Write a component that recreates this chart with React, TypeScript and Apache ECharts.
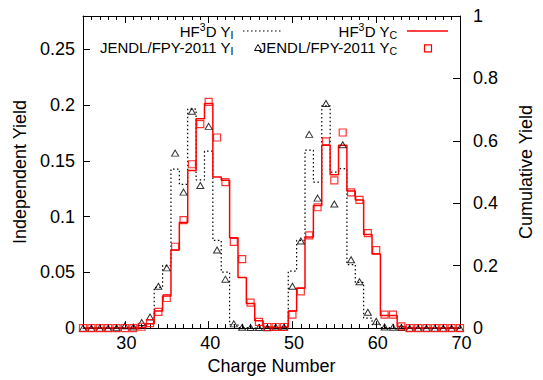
import React, { useEffect, useRef } from 'react';
import * as echarts from 'echarts';

const chargeNumbers = [25, 26, 27, 28, 29, 30, 31, 32, 33, 34, 35, 36, 37, 38, 39, 40, 41, 42, 43, 44, 45, 46, 47,
  48, 49, 50, 51, 52, 53, 54, 55, 56, 57, 58, 59, 60, 61, 62, 63, 64, 65, 66, 67, 68, 69, 70];

// HF3D independent yield (dotted step)
const hf3dYI = [0, 0, 0, 0, 0, 0.0005, 0.001, 0.002, 0.004, 0.0366, 0.056, 0.1427, 0.129, 0.1965, 0.133, 0.1587,
  0.0787, 0.0503, 0.003, 0.0005, 0, 0, 0, 0, 0.0005, 0.0512, 0.0787, 0.1596, 0.131, 0.1994, 0.14, 0.143, 0.057,
  0.041, 0.009, 0.003, 0.0005, 0, 0, 0, 0, 0, 0, 0, 0, 0];

// HF3D cumulative yield (red step)
const hf3dYC = [0, 0, 0, 0, 0, 0, 0, 0.0005, 0.004, 0.0154, 0.0288, 0.07, 0.0948, 0.1413, 0.1878, 0.2015,
  0.1355, 0.1326, 0.081, 0.0453, 0.022, 0.0067, 0.001, 0.0005, 0.001, 0.0154, 0.0358, 0.0817, 0.11, 0.164,
  0.1375, 0.164, 0.123, 0.115, 0.084, 0.0665, 0.0113, 0.0113, 0.0015, 0, 0, 0, 0, 0, 0, 0];

// JENDL/FPY-2011 independent yield (triangles)
const jendlYI = [0, 0, 0, 0, 0.0003, 0.002, 0.001, 0.005, 0.01, 0.0375, 0.054, 0.157, 0.122, 0.1945, 0.128,
  0.181, 0.07, 0.0439, 0.0038, 0.0008, 0.0005, 0.0005, 0.0003, 0.001, 0.001, 0.0375, 0.0782, 0.1738, 0.1166,
  0.2015, 0.1113, 0.1645, 0.0613, 0.0416, 0.0142, 0.0061, 0.001, 0.0008, 0.0005, 0, 0, 0, 0, 0, 0, 0];

// JENDL/FPY-2011 cumulative yield (squares)
const jendlYC = [0, 0, 0, 0, 0, 0, 0, 0.0012, 0.0045, 0.0145, 0.027, 0.073, 0.0968, 0.147, 0.183, 0.203, 0.171,
  0.131, 0.0773, 0.0619, 0.0229, 0.0055, 0.001, 0.001, 0.001, 0.012, 0.0329, 0.0831, 0.1084, 0.1675, 0.1326,
  0.1755, 0.1218, 0.1151, 0.0852, 0.07, 0.012, 0.012, 0.0015, 0, 0, 0, 0, 0, 0, 0];

const xMajorTicks = [30, 40, 50, 60, 70];
const yLeftTicks = [0, 0.05, 0.1, 0.15, 0.2, 0.25];

const FONT = 'Liberation Sans';

function pairs(vals: number[]) {
  return chargeNumbers.map((z, i) => [z, vals[i]]);
}

const richStyles = {
  m: { fontFamily: FONT, fontSize: 15, lineHeight: 19, verticalAlign: 'middle', fill: '#000' },
  sup: { fontFamily: FONT, fontSize: 10.5, lineHeight: 10, verticalAlign: 'top', fill: '#000' },
  sub: { fontFamily: FONT, fontSize: 10.5, lineHeight: 10, verticalAlign: 'bottom', fill: '#000' },
};

export default function App() {
  const ref = useRef<HTMLDivElement>(null);
  useEffect(() => {
    if (!ref.current) return;
    const chart = echarts.init(ref.current, null, { renderer: 'svg' });
    const axisLineStyle = { color: '#000', width: 1 };
    const labelStyle = { fontFamily: FONT, fontSize: 18, color: '#000' };
    const nameStyle = { fontFamily: FONT, fontSize: 18, color: '#000' };
    const option: any = {
      animation: false,
      backgroundColor: '#fff',
      grid: { left: 83, top: 16, width: 382, height: 321 },
      xAxis: [
        {
          type: 'value', position: 'bottom', min: 25, max: 70, interval: 1,
          axisLine: { show: true, lineStyle: axisLineStyle },
          axisTick: { show: true, inside: true, length: 4, lineStyle: { color: '#000' } },
          axisLabel: { ...labelStyle, margin: 6, padding: [0, 0, 0, 3], customValues: xMajorTicks },
          splitLine: { show: false },
          name: 'Charge Number', nameLocation: 'middle', nameGap: 21, nameTextStyle: nameStyle,
        },
        {
          type: 'value', position: 'bottom', min: 25, max: 70,
          axisLine: { show: false },
          axisTick: { show: true, inside: true, length: 7, customValues: xMajorTicks, lineStyle: { color: '#000' } },
          axisLabel: { show: false }, splitLine: { show: false },
        },
        {
          type: 'value', position: 'top', min: 25, max: 70, interval: 1,
          axisLine: { show: true, lineStyle: axisLineStyle },
          axisTick: { show: true, inside: true, length: 4, lineStyle: { color: '#000' } },
          axisLabel: { show: false }, splitLine: { show: false },
        },
        {
          type: 'value', position: 'top', min: 25, max: 70,
          axisLine: { show: false },
          axisTick: { show: true, inside: true, length: 7, customValues: xMajorTicks, lineStyle: { color: '#000' } },
          axisLabel: { show: false }, splitLine: { show: false },
        },
      ],
      yAxis: [
        {
          type: 'value', position: 'left', min: 0, max: 0.28,
          axisLine: { show: true, lineStyle: axisLineStyle },
          axisTick: { show: true, inside: true, length: 7, customValues: yLeftTicks, lineStyle: { color: '#000' } },
          axisLabel: { ...labelStyle, margin: 8, customValues: yLeftTicks },
          splitLine: { show: false },
          name: 'Independent Yield', nameLocation: 'middle', nameGap: 43, nameTextStyle: nameStyle,
        },
        {
          type: 'value', position: 'right', min: 0, max: 1, interval: 0.2,
          axisLine: { show: true, lineStyle: axisLineStyle },
          axisTick: { show: true, inside: true, length: 7, lineStyle: { color: '#000' } },
          axisLabel: { ...labelStyle, margin: 13 },
          splitLine: { show: false },
          name: 'Cumulative Yield', nameLocation: 'middle', nameGap: 57, nameTextStyle: nameStyle,
        },
      ],
      series: [
        {
          type: 'line', name: 'HF3D YI', data: pairs(hf3dYI), step: 'middle', showSymbol: false, symbol: 'none',
          lineStyle: { color: '#000', width: 1.2, type: [1.5, 2.5] }, z: 2,
        },
        {
          type: 'line', name: 'HF3D YC', data: pairs(hf3dYC), step: 'middle', showSymbol: false, symbol: 'none',
          lineStyle: { color: '#ff0000', width: 1.5 }, z: 3,
        },
        {
          type: 'scatter', name: 'JENDL YI', data: pairs(jendlYI), symbol: 'triangle', symbolSize: [7, 6],
          itemStyle: { color: 'transparent', borderColor: '#000', borderWidth: 1 }, z: 4,
        },
        {
          type: 'scatter', name: 'JENDL YC', data: pairs(jendlYC), symbol: 'rect', symbolSize: 7,
          itemStyle: { color: 'transparent', borderColor: '#ff0000', borderWidth: 1.2 }, z: 5,
        },
      ],
      graphic: [
        {
          type: 'text', x: 233.5, y: 31, z: 10,
          style: { text: '{m|HF}{sup|3}{m|D Y}{sub|I}', align: 'right', verticalAlign: 'middle', rich: richStyles },
        },
        {
          type: 'line', shape: { x1: 243, y1: 31, x2: 283, y2: 31 }, z: 10,
          style: { stroke: '#000', lineWidth: 1.2, lineDash: [1.5, 2.5] },
        },
        {
          type: 'text', x: 397, y: 31, z: 10,
          style: { text: '{m|HF}{sup|3}{m|D Y}{sub|C}', align: 'right', verticalAlign: 'middle', rich: richStyles },
        },
        {
          type: 'line', shape: { x1: 407, y1: 31, x2: 448, y2: 31 }, z: 10,
          style: { stroke: '#ff0000', lineWidth: 1.5 },
        },
        {
          type: 'text', x: 233.5, y: 47, z: 10,
          style: { text: '{m|JENDL/FPY-2011 Y}{sub|I}', align: 'right', verticalAlign: 'middle', rich: richStyles },
        },
        {
          type: 'polygon', z: 11,
          shape: { points: [[254.5, 50.5], [261.5, 50.5], [258, 44.5]] },
          style: { fill: 'none', stroke: '#000', lineWidth: 1 },
        },
        {
          type: 'text', x: 397, y: 47, z: 10,
          style: { text: '{m|JENDL/FPY-2011 Y}{sub|C}', align: 'right', verticalAlign: 'middle', rich: richStyles },
        },
        {
          type: 'rect', z: 11,
          shape: { x: 424.5, y: 44.8, width: 7, height: 7 },
          style: { fill: 'none', stroke: '#ff0000', lineWidth: 1.2 },
        },
      ],
    };
    chart.setOption(option);
    return () => chart.dispose();
  }, []);
  return (
    <div
      ref={ref}
      style={{ position: 'fixed', left: 0, top: 0, width: 543, height: 380, background: '#fff' }}
    />
  );
}
